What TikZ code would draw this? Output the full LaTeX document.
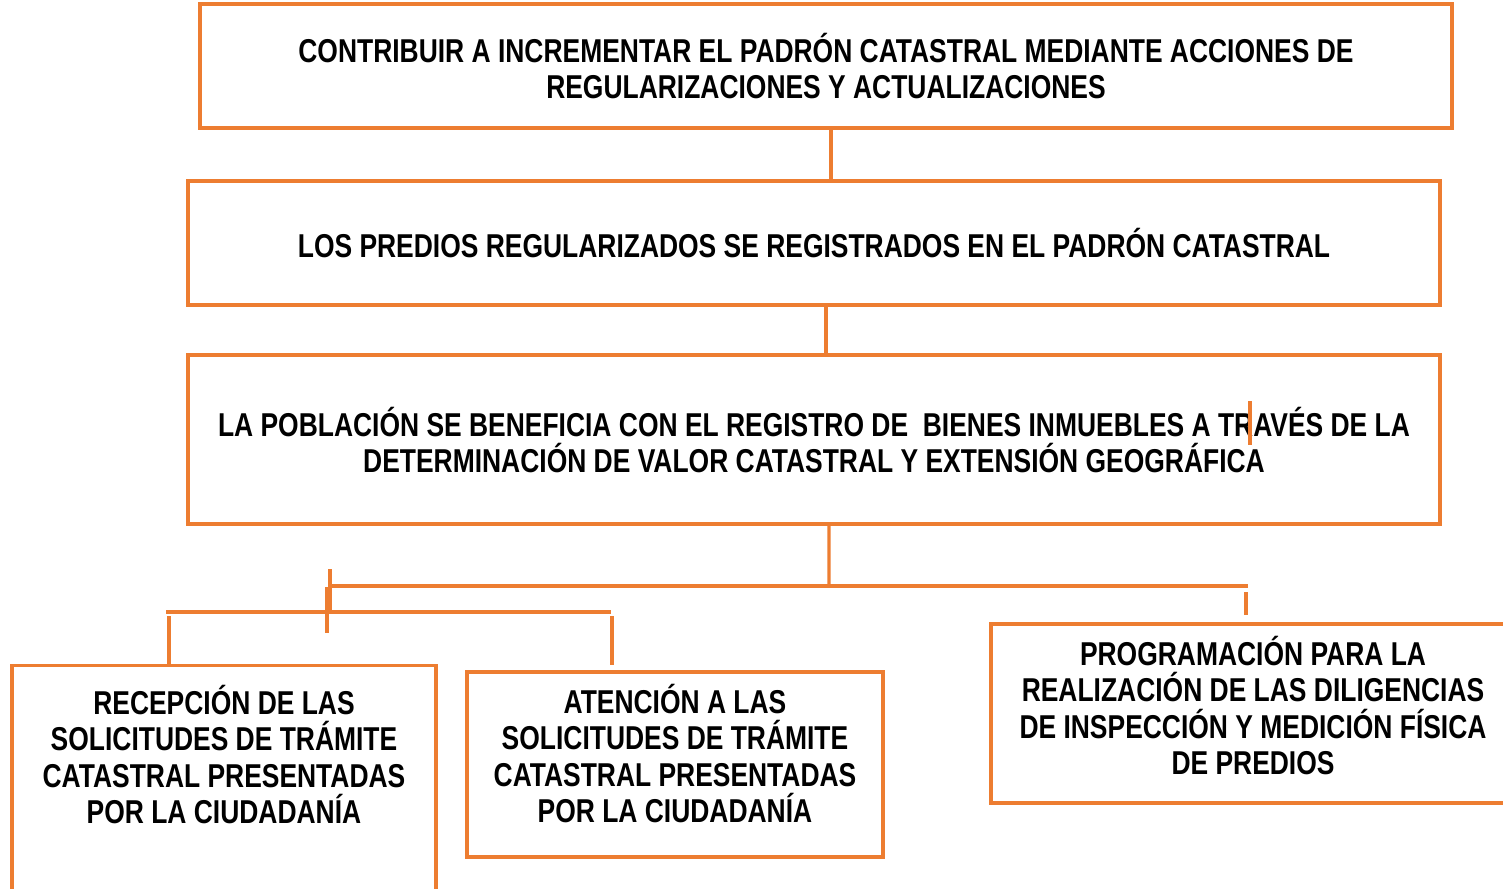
\documentclass[tikz,border=0pt]{standalone}
\usepackage{fontspec}
\setmainfont{Liberation Sans}[FakeStretch=0.8]
\usetikzlibrary{positioning}
\definecolor{naranja}{RGB}{237,125,49}

\begin{document}
\begin{tikzpicture}[x=0.1mm, y=-0.1mm,
    caja/.style={draw=naranja, line width=0.9pt, align=center, inner sep=0pt,
        font=\bfseries\fontsize{9.4}{10.4}\selectfont},
    linea/.style={draw=naranja, line width=0.9pt}]
    \useasboundingbox (0,0) rectangle (1503,888);
    \clip (0,0) rectangle (1503,888);

    % niveles superiores
    \node[caja, minimum width=125.2mm, minimum height=12.4mm] (fin) at (826,66)
        {CONTRIBUIR A INCREMENTAR EL PADRÓN CATASTRAL MEDIANTE ACCIONES DE\\REGULARIZACIONES Y ACTUALIZACIONES};
    \node[caja, minimum width=125.2mm, minimum height=12.4mm] (proposito) at (814,243)
        {LOS PREDIOS REGULARIZADOS SE REGISTRADOS EN EL PADRÓN CATASTRAL};
    \node[caja, minimum width=125.2mm, minimum height=16.9mm] (componente) at (814,439.5)
        {LA POBLACIÓN SE BENEFICIA CON EL REGISTRO DE\ \ BIENES INMUEBLES A TRAVÉS DE LA\\DETERMINACIÓN DE VALOR CATASTRAL Y EXTENSIÓN GEOGRÁFICA\\[-3.7mm]};

    % actividades
    \node[caja, anchor=north, minimum width=42.4mm, minimum height=26mm] (recepcion) at (224,664)
        {RECEPCIÓN DE LAS\\SOLICITUDES DE TRÁMITE\\CATASTRAL PRESENTADAS\\POR LA CIUDADANÍA\\[4.6mm]};
    \node[caja, minimum width=41.6mm, minimum height=18.5mm] (atencion) at (675,764.5)
        {ATENCIÓN A LAS\\SOLICITUDES DE TRÁMITE\\CATASTRAL PRESENTADAS\\POR LA CIUDADANÍA\\[-1.4mm]};
    \node[caja, minimum width=52.4mm, minimum height=17.9mm] (programacion) at (1253,713.5)
        {PROGRAMACIÓN PARA LA\\REALIZACIÓN DE LAS DILIGENCIAS\\DE INSPECCIÓN Y MEDICIÓN FÍSICA\\DE PREDIOS\\[-2mm]};

    % puntos sueltos
    \coordinate (nudo) at (829,586);
    \coordinate (ramai) at (329,586);
    \coordinate (ramad) at (1248,586);
    \coordinate (progarriba) at (1246,592);
    \coordinate (progabajo) at (1246,615);
    \coordinate (cortea) at (330,569);
    \coordinate (corteb) at (330,614);
    \coordinate (cortec) at (327,587);
    \coordinate (corted) at (327,633);
    \coordinate (barrai) at (166,612);
    \coordinate (barrad) at (611,612);
    \coordinate (recarriba) at (169,616);
    \coordinate (atearriba) at (612,616);
    \coordinate (ateabajo) at (612,665);
    \coordinate (marcaa) at (1250,401);
    \coordinate (marcab) at (1250,445);

    % conectores
    \draw[linea] ([xshift=0.5mm]fin.south) -- ([xshift=0.5mm]fin.south |- proposito.north);
    \draw[linea] ([xshift=1.2mm]proposito.south) -- ([xshift=1.2mm]proposito.south |- componente.north);
    \draw[linea] ([xshift=1.5mm]componente.south) -- (nudo);
    \draw[linea] (ramai) -- (ramad);
    \draw[linea] (progarriba) -- (progabajo);
    \draw[linea] (cortea) -- (corteb);
    \draw[linea] (cortec) -- (corted);
    \draw[linea] (barrai) -- (barrad);
    \draw[linea] (recarriba) -- (recarriba |- recepcion.north);
    \draw[linea] (atearriba) -- (ateabajo);
    \draw[linea] (marcaa) -- (marcab);

\end{tikzpicture}
\end{document}
